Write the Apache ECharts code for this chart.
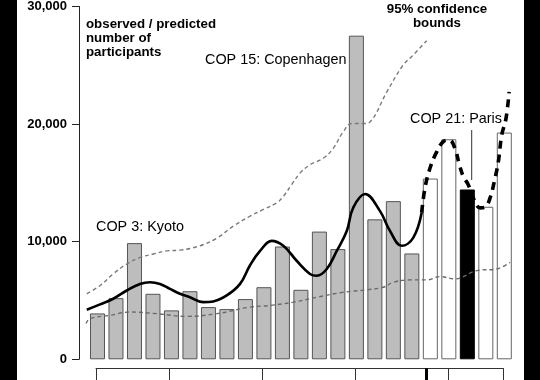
<!DOCTYPE html>
<html>
<head>
<meta charset="utf-8">
<script src="https://cdn.jsdelivr.net/npm/echarts@6/dist/echarts.min.js"></script>
<style>
html,body{margin:0;padding:0;background:#fff;}
#c{width:540px;height:380px;}
</style>
</head>
<body>
<div id="c"></div>
<script>
// ---- data ----
const years = [1995,1996,1997,1998,1999,2000,2001,2002,2003,2004,2005,2006,2007,2008,2009,2010,2011,2012,2013,2014,2015,2016,2017];
const participants = [3900,5200,9880,5570,4160,5790,4440,4270,5120,6130,9590,5910,10860,9370,27520,11900,13450,9000,15370,18710,14440,12970,19280];
const barKind = ['obs','obs','obs','obs','obs','obs','obs','obs','obs','obs','obs','obs','obs','obs','obs','obs','obs','obs','pred','pred','paris','pred','pred'];

// observed smooth trend (solid)
const trendX = [1994.42,1995.14,1995.85,1996.58,1997.30,1997.84,1998.38,1998.92,1999.46,2000.00,2000.72,2001.26,2001.99,2002.71,2003.25,2003.79,2004.42,2005.05,2005.77,2006.49,2006.86,2007.40,2007.94,2008.48,2008.83,2009.47,2010.28,2010.82,2011.45,2012.08,2012.53];
const trendY = [4220,4670,5150,5850,6410,6550,6410,5990,5570,5280,4860,4920,5430,6410,8000,9220,10070,9650,8380,7260,7110,7680,9220,10910,12900,14060,12600,10910,9650,10350,12460];

// predicted continuation (thick dashed)
const predX = [2012.53,2012.71,2012.98,2013.35,2013.70,2014.03,2014.33,2014.57,2014.78,2015.05,2015.32,2015.69,2015.96,2016.23,2016.50,2016.68,2016.86,2017.09,2017.26];
const predY = [12460,14570,16250,17660,18510,18650,17940,16540,15550,14850,13720,12880,12940,13720,15410,16820,19070,20470,22740];

// 95% confidence bounds
const upperX = [1994.42,1995.14,1995.85,1996.58,1997.30,1998.02,1998.74,1999.46,2000.54,2001.45,2002.34,2003.25,2003.97,2004.69,2005.05,2005.50,2005.95,2006.49,2007.21,2007.75,2008.29,2008.75,2009.38,2009.74,2010.64,2011.52,2012.06,2012.80];
const upperY = [5570,6270,7260,8100,8660,8950,9220,9280,9650,10300,11320,12170,12740,13300,13860,14850,15830,16540,17100,17940,19350,20050,20050,20190,22720,25000,25850,27090];
const lowerX = [1994.38,1994.59,1995.68,1996.76,1998.20,1999.82,2001.45,2003.25,2004.33,2005.59,2006.86,2008.29,2009.56,2010.46,2011.00,2011.90,2012.80,2013.52,2014.33,2015.51,2016.59,2017.31];
const lowerY = [3040,3460,3740,4020,3880,3650,3880,4440,4580,4860,5280,5700,5910,6130,6550,6750,6750,7030,6840,7540,7680,8240];

// lower (time) axis tick positions
const timeAxisMin = 1994.92, timeAxisMax = 2016.95;
const timeTicks = [1994.92,1998.88,2003.93,2008.92,2013.97,2016.95];
const markerTick = [2012.77];

const yTicks = [0,10000,20000,30000];

// ---- styles ----
const kindStyle = {
  obs:   {color:'#bdbdbd', borderColor:'#555', borderWidth:1},
  pred:  {color:'#ffffff', borderColor:'#666', borderWidth:1},
  paris: {color:'#000000', borderColor:'#000', borderWidth:1}
};
const pairs = (xs, ys) => xs.map((x,i)=>[x, ys[i]]);

const chart = echarts.init(document.getElementById('c'), null, {renderer:'canvas'});
chart.setOption({
  backgroundColor:'#ffffff',
  animation:false,
  grid:[
    {left:79, right:17.2, top:4, bottom:20.7},
    {left:96, right:36.7, top:360, bottom:11.7}
  ],
  xAxis:[
    {type:'value', gridIndex:0, min:1994, max:2018, show:false},
    {type:'value', gridIndex:1, min:timeAxisMin, max:timeAxisMax, position:'bottom',
     axisLine:{show:true, lineStyle:{color:'#333', width:1}},
     axisTick:{show:true, customValues:timeTicks, length:13, lineStyle:{color:'#333', width:1}},
     axisLabel:{show:false}, splitLine:{show:false}},
    {type:'value', gridIndex:1, min:timeAxisMin, max:timeAxisMax, position:'bottom',
     axisLine:{show:false},
     axisTick:{show:true, customValues:markerTick, length:14, lineStyle:{color:'#000', width:3}},
     axisLabel:{show:false}, splitLine:{show:false}}
  ],
  yAxis:[
    {type:'value', gridIndex:0, min:0, max:30000, interval:10000,
     axisLine:{show:true, lineStyle:{color:'#222', width:1}},
     axisTick:{show:true, length:7, lineStyle:{color:'#222', width:1}},
     axisLabel:{color:'#000', fontFamily:'Liberation Sans, Arial, sans-serif', fontWeight:'bold', fontSize:13, margin:12,
       formatter:v=>v.toLocaleString('en-US')},
     splitLine:{show:false}},
    {type:'value', gridIndex:1, show:false, min:0, max:1}
  ],
  series:[
    {type:'bar', xAxisIndex:0, yAxisIndex:0, barWidth:15,
     data: years.map((y,i)=>({value:[y, participants[i]], itemStyle:kindStyle[barKind[i]]})),
     z:1},
    {type:'line', xAxisIndex:0, yAxisIndex:0, data:pairs(upperX,upperY), smooth:0.4, symbol:'none',
     lineStyle:{color:'#7a7a7a', width:1.4, type:[4,3]}, z:3},
    {type:'line', xAxisIndex:0, yAxisIndex:0, data:pairs(lowerX,lowerY), smooth:0.4, symbol:'none',
     lineStyle:{color:'#6a6a6a', width:1.4, type:[4,3]}, z:3},
    {type:'line', xAxisIndex:0, yAxisIndex:0, data:pairs(trendX,trendY), smooth:0.4, symbol:'none',
     lineStyle:{color:'#000', width:2.6}, z:4},
    {type:'line', xAxisIndex:0, yAxisIndex:0, data:pairs(predX,predY), smooth:0.4, symbol:'none',
     lineStyle:{color:'#000', width:3.6, type:[8,6]}, z:4}
  ],
  graphic:[
    {type:'text', left:86, top:17, z:10, style:{text:'observed / predicted\nnumber of\nparticipants', fill:'#000',
      font:'bold 13.3px "Liberation Sans", Arial, sans-serif', lineHeight:14}},
    {type:'text', x:437, y:2, z:10, style:{text:'95% confidence\nbounds', fill:'#000', align:'center',
      font:'bold 13.3px "Liberation Sans", Arial, sans-serif', lineHeight:14}},
    {type:'text', left:205, top:53, z:10, style:{text:'COP 15: Copenhagen', fill:'#000',
      font:'14.4px "Liberation Sans", Arial, sans-serif'}},
    {type:'text', left:96, top:220, z:10, style:{text:'COP 3: Kyoto', fill:'#000',
      font:'14.4px "Liberation Sans", Arial, sans-serif'}},
    {type:'text', left:410, top:112, z:10, style:{text:'COP 21: Paris', fill:'#000',
      font:'14.4px "Liberation Sans", Arial, sans-serif'}},
    {type:'line', z:10, shape:{x1:471.7, y1:130, x2:471.7, y2:180}, style:{stroke:'#333', lineWidth:1}},
    {type:'rect', z:20, shape:{x:0, y:0, width:17, height:380}, style:{fill:'#000'}},
    {type:'rect', z:20, shape:{x:524, y:0, width:16, height:380}, style:{fill:'#000'}}
  ]
});
</script>
</body>
</html>
